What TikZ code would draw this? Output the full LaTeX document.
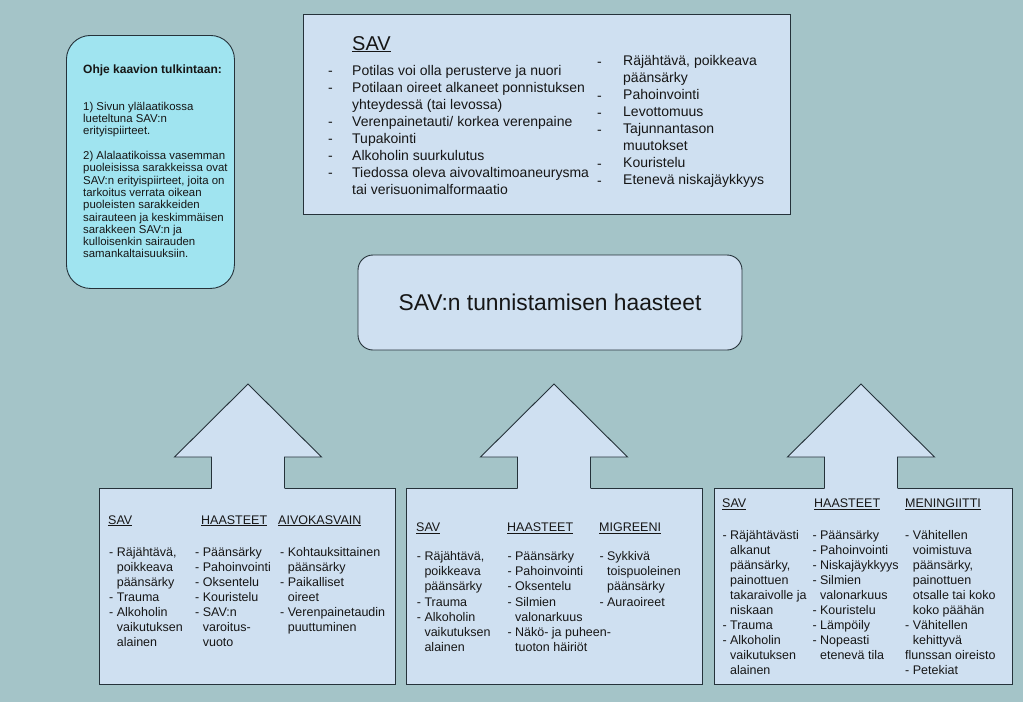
\documentclass[tikz,border=0pt]{standalone}
\usepackage{fontspec}
\setmainfont{Liberation Sans}
\usepackage{tikz}
\usepackage{xcolor}
\definecolor{slatebg}{HTML}{A4C4C8}
\definecolor{paleblue}{HTML}{CFE0F1}
\definecolor{notecyan}{HTML}{A0E4F0}
\definecolor{edgegray}{HTML}{25323A}
\definecolor{inkgray}{HTML}{161616}
\newcommand{\ind}{\hphantom{- }}
\newcommand{\lead}{\rule{0pt}{1em}}
\lineskiplimit=-100pt

\begin{document}
\begin{tikzpicture}[x=1pt,y=-1pt,
  panel/.style={draw=edgegray,fill=paleblue,line width=.9pt,inner sep=0,anchor=north west},
  colhead/.style={inner sep=0,anchor=base west,text=inkgray,font=\fontsize{12.5}{15.1}\selectfont},
  colitems/.style={inner sep=0,anchor=north west,align=left,text=inkgray,font=\fontsize{12.5}{15.1}\selectfont},
  toplist/.style={colitems,font=\fontsize{14}{17.1}\selectfont},
  notetext/.style={colitems,font=\fontsize{11.4}{12.3}\selectfont}]
\useasboundingbox (0,0) rectangle (1023,702);
\fill[slatebg] (0,0) rectangle (1023,702);
\node[panel,minimum width=487,minimum height=200] (savbox) at (303,14) {};
\node[panel,fill=notecyan,rounded corners=24,minimum width=168,minimum height=253] (ohjebox) at (66,35) {};
\node[panel,rounded corners=15,minimum width=384,minimum height=95,anchor=center,text=inkgray,
  font=\fontsize{22.8}{26}\selectfont] (haasteet) at (550,302.5) {SAV:n tunnistamisen haasteet};
\foreach \x/\w/\n in {99/296/aivo,406/296/migr,714/298/menin}
  \node[panel,minimum width=\w,minimum height=196] (\n) at (\x,488) {};
\foreach \x in {248,554,861} {
  \fill[paleblue] (\x-36.5,490.5) -- (\x-36.5,457) -- (\x-73.5,457) -- (\x,384) -- (\x+73.5,457)
    -- (\x+36.5,457) -- (\x+36.5,490.5) -- cycle;
  \draw[edgegray,line width=.9pt] (\x-36.5,488) -- (\x-36.5,457) -- (\x-73.5,457) -- (\x,384)
    -- (\x+73.5,457) -- (\x+36.5,457) -- (\x+36.5,488);
}
\node[colhead,font=\fontsize{20}{24}\selectfont] (savtitle) at (352,50) {\underline{SAV}};
\node[toplist] (savleft) at (352,61) {\lead Potilas voi olla perusterve ja nuori\\Potilaan oireet alkaneet ponnistuksen\\yhteydessä (tai levossa)\\Verenpainetauti/ korkea verenpaine\\Tupakointi\\Alkoholin suurkulutus\\Tiedossa oleva aivovaltimoaneurysma\\tai verisuonimalformaatio};
\node[toplist] (savleftdash) at (328,61) {\lead-\\-\\\mbox{}\\-\\-\\-\\-};
\node[toplist] (savright) at (623,51) {\lead Räjähtävä, poikkeava\\päänsärky\\Pahoinvointi\\Levottomuus\\Tajunnantason\\muutokset\\Kouristelu\\Etenevä niskajäykkyys};
\node[toplist] (savrightdash) at (597,52) {\lead-\\\mbox{}\\-\\-\\-\\\mbox{}\\-\\-};
\node[colhead,font=\bfseries\fontsize{12}{14}\selectfont] (ohjehead) at (83,73.7) {Ohje kaavion tulkintaan:};
\node[notetext] (ohjetext) at (83,98.7) {\lead 1) Sivun ylälaatikossa\\lueteltuna SAV:n\\erityispiirteet.\\\mbox{}\\2) Alalaatikoissa vasemman\\puoleisissa sarakkeissa ovat\\SAV:n erityispiirteet, joita on\\tarkoitus verrata oikean\\puoleisten sarakkeiden\\sairauteen ja keskimmäisen\\sarakkeen SAV:n ja\\kulloisenkin sairauden\\samankaltaisuuksiin.};
\foreach \x/\y/\t [count=\i] in {108/524/SAV,201/524/HAASTEET,278/524/AIVOKASVAIN,
  416/531.3/SAV,507/531.3/HAASTEET,599/531.3/MIGREENI,722/507.8/SAV,814/507.8/HAASTEET,905/507.8/MENINGIITTI}
  \node[colhead] (head\i) at (\x,\y) {\underline{\t}};
\node[colitems] (aivosav) at (109,543.5) {\lead- Räjähtävä,\\\ind poikkeava\\\ind päänsärky\\- Trauma\\- Alkoholin\\\ind vaikutuksen\\\ind alainen};
\node[colitems] (aivohaas) at (195,543.5) {\lead- Päänsärky\\- Pahoinvointi\\- Oksentelu\\- Kouristelu\\- SAV:n\\\ind varoitus-\\\ind vuoto};
\node[colitems] (aivotauti) at (280,543.5) {\lead- Kohtauksittainen\\\ind päänsärky\\- Paikalliset\\\ind oireet\\- Verenpainetaudin\\\ind puuttuminen};
\node[colitems] (migrsav) at (416.7,548) {\lead- Räjähtävä,\\\ind poikkeava\\\ind päänsärky\\- Trauma\\- Alkoholin\\\ind vaikutuksen\\\ind alainen};
\node[colitems] (migrhaas) at (507.3,548) {\lead- Päänsärky\\- Pahoinvointi\\- Oksentelu\\- Silmien\\\ind valonarkuus\\- Näkö- ja puheen-\\\ind tuoton häiriöt};
\node[colitems] (migrtauti) at (599.3,548) {\lead- Sykkivä\\\ind toispuoleinen\\\ind päänsärky\\- Auraoireet};
\node[colitems] (meninsav) at (722.3,526.3) {\lead- Räjähtävästi\\\ind alkanut\\\ind päänsärky,\\\ind painottuen\\\ind takaraivolle ja\\\ind niskaan\\- Trauma\\- Alkoholin\\\ind vaikutuksen\\\ind alainen};
\node[colitems] (meninhaas) at (812.3,526.3) {\lead- Päänsärky\\- Pahoinvointi\\- Niskajäykkyys\\- Silmien\\\ind valonarkuus\\- Kouristelu\\- Lämpöily\\- Nopeasti\\\ind etenevä tila};
\node[colitems] (menintauti) at (905,526.3) {\lead- Vähitellen\\\ind voimistuva\\\ind päänsärky,\\\ind painottuen\\\ind otsalle tai koko\\\ind koko päähän\\- Vähitellen\\\ind kehittyvä\\flunssan oireisto\\- Petekiat};
\end{tikzpicture}
\end{document}
